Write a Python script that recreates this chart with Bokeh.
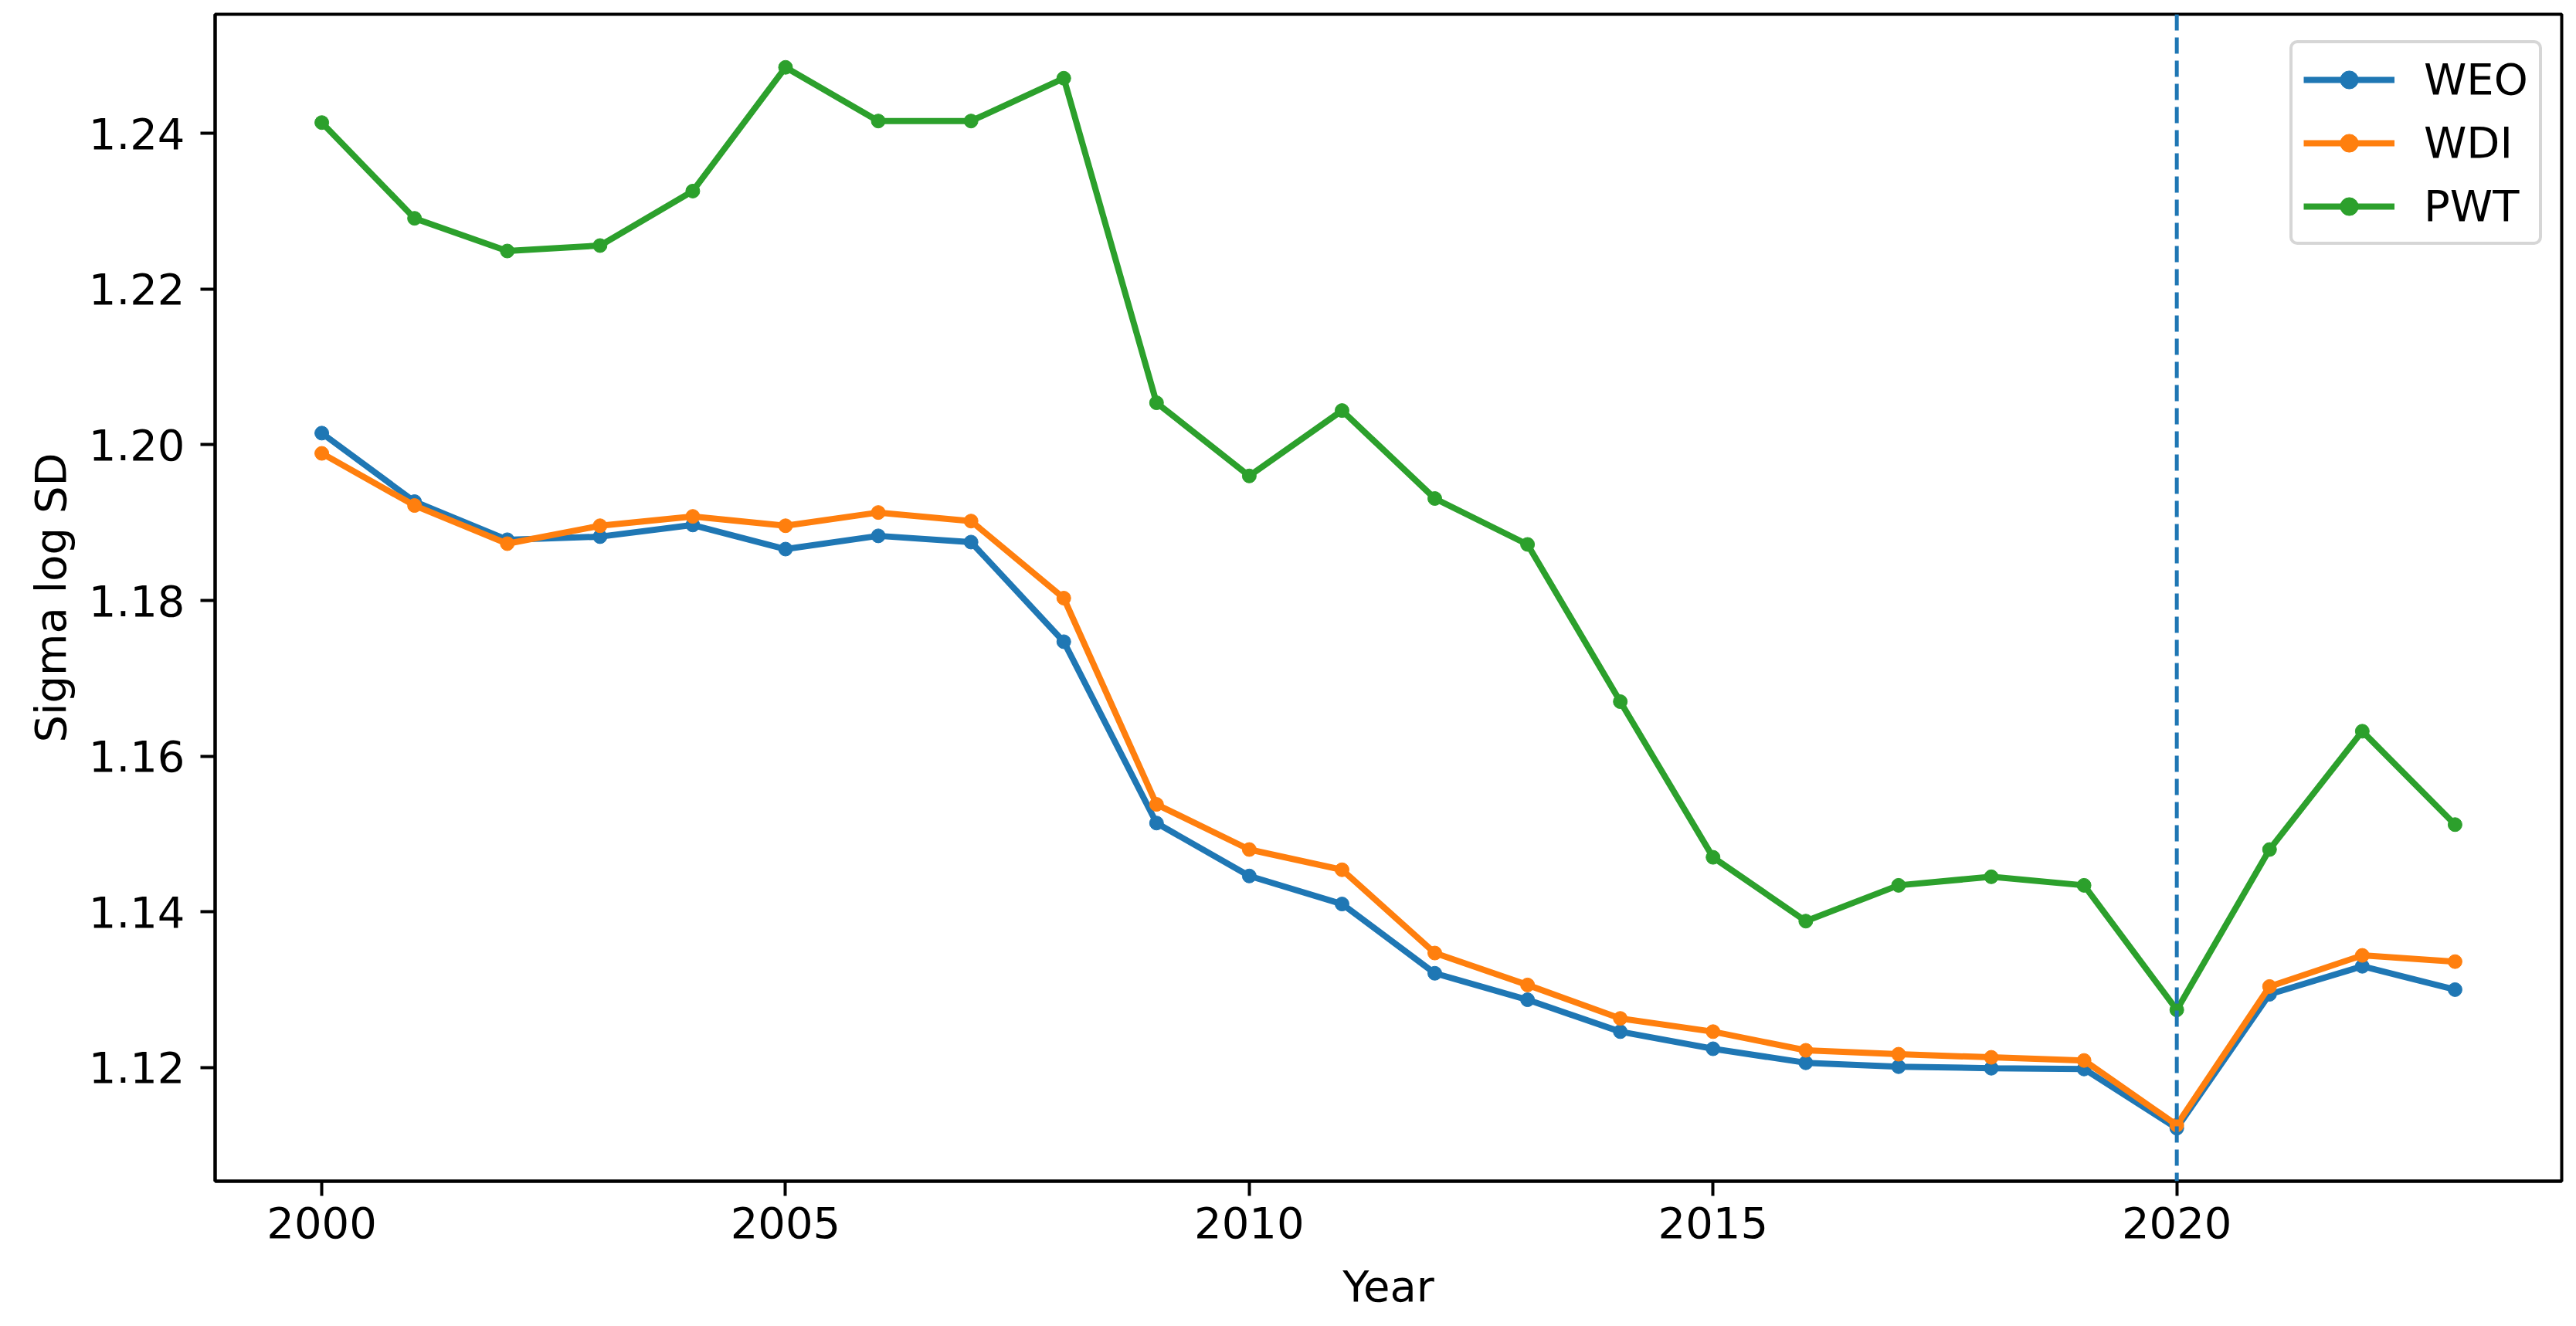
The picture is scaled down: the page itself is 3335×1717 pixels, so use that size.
from bokeh.plotting import figure
from bokeh.models import Range1d, FixedTicker, PrintfTickFormatter, Span, Legend, LegendItem
from bokeh.embed import file_html
from bokeh.resources import INLINE

years = list(range(2000, 2024))
weo = [1.2015, 1.1927, 1.1878, 1.1882, 1.1897, 1.1866, 1.1883, 1.1875, 1.1747, 1.1514,
       1.1446, 1.1410, 1.1321, 1.1287, 1.1246, 1.1224, 1.1206, 1.1201, 1.1199, 1.1198,
       1.1122, 1.1294, 1.1330, 1.1300]
wdi = [1.1989, 1.1922, 1.1873, 1.1896, 1.1908, 1.1896, 1.1913, 1.1902, 1.1803, 1.1538,
       1.1480, 1.1454, 1.1347, 1.1306, 1.1263, 1.1246, 1.1222, 1.1217, 1.1213, 1.1209,
       1.1126, 1.1304, 1.1344, 1.1336]
pwt = [1.2414, 1.2291, 1.2249, 1.2256, 1.2326, 1.2485, 1.2416, 1.2416, 1.2471, 1.2054,
       1.1960, 1.2044, 1.1931, 1.1872, 1.1670, 1.1470, 1.1388, 1.1434, 1.1445, 1.1434,
       1.1274, 1.1480, 1.1632, 1.1512]
series_names = ["WEO", "WDI", "PWT"]
series_colors = ["#1f77b4", "#ff7f0e", "#2ca02c"]
x_ticks = [2000, 2005, 2010, 2015, 2020]
y_ticks = [1.12, 1.14, 1.16, 1.18, 1.20, 1.22, 1.24]
marker_year = 2020

FONT = "DejaVu Sans"
FS = "56px"

all_y = weo + wdi + pwt
ymin, ymax = min(all_y), max(all_y)
xmin, xmax = min(years), max(years)
ym = (ymax - ymin) * 0.05
xm = (xmax - xmin) * 0.05

p = figure(width=3319, height=1701, output_backend="svg", toolbar_location=None,
           x_range=Range1d(xmin - xm, xmax + xm), y_range=Range1d(ymin - ym, ymax + ym),
           min_border_left=278, min_border_top=18, min_border_right=3, min_border_bottom=172)
p.background_fill_color = "white"
p.border_fill_color = "white"
p.outline_line_color = "black"
p.outline_line_width = 4
p.xgrid.visible = False
p.ygrid.visible = False

items = []
for name, ys, col in zip(series_names, [weo, wdi, pwt], series_colors):
    r1 = p.line(years, ys, line_color=col, line_width=8)
    r2 = p.scatter(years, ys, size=18, fill_color=col, line_color=col, line_width=1)
    items.append(LegendItem(label=name, renderers=[r1, r2]))

vline = Span(location=marker_year, dimension="height", line_color="#1f77b4",
             line_dash="21 9", line_width=5)
p.add_layout(vline)

for ax in (p.xaxis[0], p.yaxis[0]):
    ax.axis_line_width = 4
    ax.axis_line_color = "black"
    ax.major_tick_line_width = 4
    ax.major_tick_line_color = "black"
    ax.major_tick_out = 19
    ax.major_tick_in = 0
    ax.minor_tick_line_color = None
    ax.major_label_text_font = FONT
    ax.major_label_text_font_size = FS
    ax.major_label_text_color = "black"
    ax.axis_label_text_font = FONT
    ax.axis_label_text_font_size = FS
    ax.axis_label_text_font_style = "normal"
    ax.axis_label_text_color = "black"

p.xaxis.ticker = FixedTicker(ticks=x_ticks)
p.yaxis.ticker = FixedTicker(ticks=y_ticks)
p.yaxis.formatter = PrintfTickFormatter(format="%.2f")
p.xaxis.axis_label = "Year"
p.yaxis.axis_label = "Sigma log SD"
p.xaxis.major_label_standoff = 14
p.yaxis.major_label_standoff = 20
p.xaxis.axis_label_standoff = 27
p.yaxis.axis_label_standoff = 14

legend = Legend(items=items, location=(2686, 1212),
                label_text_font=FONT, label_text_font_size=FS, label_text_color="black",
                glyph_width=118, glyph_height=58, label_height=58, label_standoff=38,
                spacing=17, padding=14,
                border_line_color="#cccccc", border_line_width=4, border_line_alpha=0.8,
                background_fill_color="white", background_fill_alpha=0.8)
if "border_radius" in Legend.properties():
    legend.border_radius = 10
p.add_layout(legend)

open("out.html", "w").write(file_html(p, INLINE))
